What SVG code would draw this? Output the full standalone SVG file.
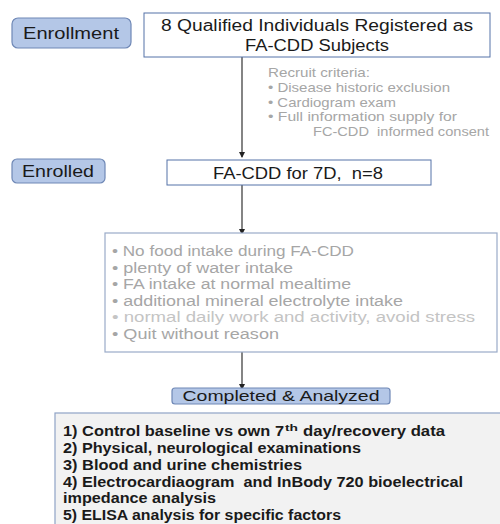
<svg xmlns="http://www.w3.org/2000/svg" width="500" height="524" viewBox="0 0 500 524">
<style>
.lbl{fill:#b4c7e7;stroke:#6f88b6;stroke-width:1.2}
.box{fill:#fff;stroke:#5572a8;stroke-width:1}
.t{font-family:"Liberation Sans",Arial,sans-serif;fill:#1a1a1a}
.g{font-family:"Liberation Sans",Arial,sans-serif;fill:#a6a6a6}
.b{font-family:"Liberation Sans",Arial,sans-serif;font-weight:bold;fill:#1a1a1a;font-size:14px}
.c{stroke:#333;stroke-width:1.2;fill:none}
</style>
<defs>
<marker id="ah" markerWidth="6" markerHeight="6" refX="5" refY="3" orient="auto" markerUnits="userSpaceOnUse">
<path d="M0,0 L6,3 L0,6 z" fill="#222"/>
</marker>
</defs>
<g id="connectors">
<line class="c" x1="242" y1="57" x2="242" y2="157" marker-end="url(#ah)"/>
<line class="c" x1="242" y1="185" x2="242" y2="234" marker-end="url(#ah)"/>
<line class="c" x1="242" y1="352" x2="242" y2="389" marker-end="url(#ah)"/>
</g>
<g id="enrollment">
<rect class="lbl" x="12" y="18" width="119" height="30" rx="6"/>
<text class="t" x="71" y="38.5" font-size="16" text-anchor="middle" textLength="96" lengthAdjust="spacingAndGlyphs">Enrollment</text>
</g>
<g id="registered">
<rect class="box" x="144" y="13" width="346" height="44"/>
<text class="t" x="317" y="31" font-size="16" text-anchor="middle" textLength="312" lengthAdjust="spacingAndGlyphs">8 Qualified Individuals Registered as</text>
<text class="t" x="317" y="51" font-size="16" text-anchor="middle" textLength="144" lengthAdjust="spacingAndGlyphs">FA-CDD Subjects</text>
</g>
<g id="criteria" class="g" font-size="13">
<text x="268" y="77" textLength="102" lengthAdjust="spacingAndGlyphs">Recruit criteria:</text>
<text x="268" y="92" textLength="182" lengthAdjust="spacingAndGlyphs">• Disease historic exclusion</text>
<text x="268" y="107" textLength="128" lengthAdjust="spacingAndGlyphs">• Cardiogram exam</text>
<text x="268" y="121" textLength="189" lengthAdjust="spacingAndGlyphs">• Full information supply for</text>
<text x="313" y="136" textLength="176" lengthAdjust="spacingAndGlyphs" xml:space="preserve">FC-CDD  informed consent</text>
</g>
<g id="enrolled">
<rect class="lbl" x="12" y="159" width="93" height="24" rx="5"/>
<text class="t" x="58" y="177" font-size="16" text-anchor="middle" textLength="72" lengthAdjust="spacingAndGlyphs">Enrolled</text>
</g>
<g id="facdd">
<rect class="box" x="167" y="160" width="264" height="25"/>
<text class="t" x="298" y="179" font-size="16" text-anchor="middle" textLength="170" lengthAdjust="spacingAndGlyphs" xml:space="preserve">FA-CDD for 7D,  n=8</text>
</g>
<g id="rules">
<rect x="105" y="233" width="392" height="119" fill="#fff" stroke="#9aabc8" stroke-width="1.2"/>
<g class="g" font-size="14">
<text x="112" y="256" textLength="242" lengthAdjust="spacingAndGlyphs">• No food intake during FA-CDD</text>
<text x="112" y="273" textLength="181" lengthAdjust="spacingAndGlyphs">• plenty of water intake</text>
<text x="112" y="289" textLength="239" lengthAdjust="spacingAndGlyphs">• FA intake at normal mealtime</text>
<text x="112" y="306" textLength="291" lengthAdjust="spacingAndGlyphs">• additional mineral electrolyte intake</text>
<text x="112" y="322" textLength="363" lengthAdjust="spacingAndGlyphs" fill="#c4c4c4">• normal daily work and activity, avoid stress</text>
<text x="112" y="339" textLength="167" lengthAdjust="spacingAndGlyphs">• Quit without reason</text>
</g>
</g>
<g id="completed">
<rect class="lbl" x="172" y="388" width="218" height="16" rx="3"/>
<text class="t" x="281" y="401" font-size="15" text-anchor="middle" textLength="197" lengthAdjust="spacingAndGlyphs">Completed &amp; Analyzed</text>
</g>
<g id="analysis">
<rect x="55" y="413" width="450" height="120" fill="#f2f2f2" stroke="#8fa3c6" stroke-width="1.2"/>
<g class="b">
<text x="63" y="436" textLength="221" lengthAdjust="spacingAndGlyphs">1) Control baseline vs own 7</text>
<text x="285" y="431" font-size="9" textLength="13" lengthAdjust="spacingAndGlyphs">th</text>
<text x="303" y="436" textLength="142" lengthAdjust="spacingAndGlyphs">day/recovery data</text>
<text x="63" y="453" textLength="298" lengthAdjust="spacingAndGlyphs">2) Physical, neurological examinations</text>
<text x="63" y="470" textLength="239" lengthAdjust="spacingAndGlyphs">3) Blood and urine chemistries</text>
<text x="63" y="487" textLength="400" lengthAdjust="spacingAndGlyphs" xml:space="preserve">4) Electrocardiaogram  and InBody 720 bioelectrical</text>
<text x="63" y="503" textLength="153" lengthAdjust="spacingAndGlyphs">impedance analysis</text>
<text x="63" y="520" textLength="278" lengthAdjust="spacingAndGlyphs">5) ELISA analysis for specific factors</text>
</g>
</g>
</svg>
